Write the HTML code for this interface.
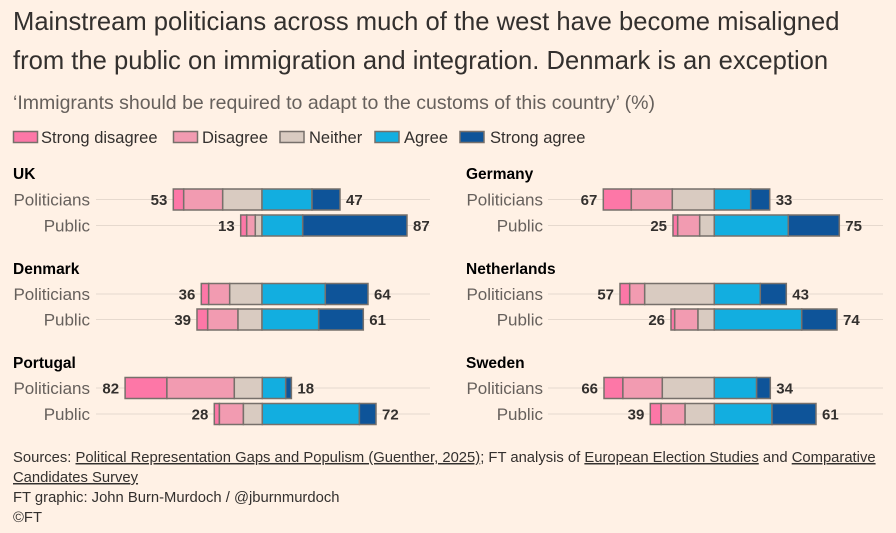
<!DOCTYPE html>
<html><head><meta charset="utf-8"><style>
body{margin:0;background:#fff1e5;}
svg{display:block;font-family:"Liberation Sans",sans-serif;}
.t{font-size:25.6px;fill:#33302e;}
.s{font-size:19.5px;fill:#66605c;}
.lg{font-size:16.5px;fill:#33302e;}
.c{font-size:15.5px;font-weight:bold;fill:#000;}
.r{font-size:17px;fill:#66605c;text-anchor:end;}
.n{font-size:15px;font-weight:bold;fill:#33302e;}
.e{text-anchor:end;}
.f{font-size:14.8px;fill:#33302e;}
.u{text-decoration:underline;}
rect{stroke:#77706b;stroke-width:1.5;}
.a{fill:#fd77a7}.b{fill:#f29bb1}.d{fill:#d9cbc1}.g{fill:#12aee0}.h{fill:#0e5499}
line{stroke:#e6d9ce;stroke-width:1;}
</style></head><body>
<svg width="896" height="533" viewBox="0 0 896 533">
<text class="t" x="13" y="30">Mainstream politicians across much of the west have become misaligned</text>
<text class="t" x="13" y="69">from the public on immigration and integration. Denmark is an exception</text>
<text class="s" x="13" y="109">‘Immigrants should be required to adapt to the customs of this country’ (%)</text>
<rect class="a" x="13.5" y="131.5" width="24" height="11"/><text class="lg" x="41" y="143">Strong disagree</text>
<rect class="b" x="173.5" y="131.5" width="24" height="11"/><text class="lg" x="202" y="143">Disagree</text>
<rect class="d" x="280" y="131.5" width="24" height="11"/><text class="lg" x="309" y="143">Neither</text>
<rect class="g" x="375" y="131.5" width="24" height="11"/><text class="lg" x="404" y="143">Agree</text>
<rect class="h" x="460" y="131.5" width="24" height="11"/><text class="lg" x="490" y="143">Strong agree</text>

<g>
<line x1="96" x2="430" y1="199.5" y2="199.5"/><line x1="96" x2="430" y1="225.5" y2="225.5"/>
<line x1="96" x2="430" y1="294" y2="294"/><line x1="96" x2="430" y1="319.5" y2="319.5"/>
<line x1="96" x2="430" y1="388" y2="388"/><line x1="96" x2="430" y1="414" y2="414"/>
<line x1="548" x2="883" y1="199.5" y2="199.5"/><line x1="548" x2="883" y1="225.5" y2="225.5"/>
<line x1="548" x2="883" y1="294" y2="294"/><line x1="548" x2="883" y1="319.5" y2="319.5"/>
<line x1="548" x2="883" y1="388" y2="388"/><line x1="548" x2="883" y1="414" y2="414"/>
</g>

<text class="c" x="13" y="179">UK</text>
<text class="c" x="466" y="179">Germany</text>
<text class="c" x="13" y="274">Denmark</text>
<text class="c" x="466" y="274">Netherlands</text>
<text class="c" x="13" y="368">Portugal</text>
<text class="c" x="466" y="368">Sweden</text>

<text class="r" x="90" y="205.5">Politicians</text><text class="r" x="90" y="231.5">Public</text>
<text class="r" x="90" y="300">Politicians</text><text class="r" x="90" y="325.5">Public</text>
<text class="r" x="90" y="394">Politicians</text><text class="r" x="90" y="420">Public</text>
<text class="r" x="543" y="205.5">Politicians</text><text class="r" x="543" y="231.5">Public</text>
<text class="r" x="543" y="300">Politicians</text><text class="r" x="543" y="325.5">Public</text>
<text class="r" x="543" y="394">Politicians</text><text class="r" x="543" y="420">Public</text>

<rect class="a" x="173.3" y="189" width="10.4" height="21"/><rect class="b" x="183.7" y="189" width="39" height="21"/><rect class="d" x="222.7" y="189" width="39.3" height="21"/><rect class="g" x="262" y="189" width="50" height="21"/><rect class="h" x="312" y="189" width="28" height="21"/>
<text class="n e" x="167.3" y="205">53</text><text class="n" x="346" y="205">47</text>
<rect class="a" x="240.7" y="215" width="6" height="21"/><rect class="b" x="246.7" y="215" width="8.6" height="21"/><rect class="d" x="255.3" y="215" width="6.7" height="21"/><rect class="g" x="262" y="215" width="40.7" height="21"/><rect class="h" x="302.7" y="215" width="104.3" height="21"/>
<text class="n e" x="234.7" y="231">13</text><text class="n" x="413" y="231">87</text>
<rect class="a" x="603.3" y="189" width="28" height="21"/><rect class="b" x="631.3" y="189" width="41" height="21"/><rect class="d" x="672.3" y="189" width="42" height="21"/><rect class="g" x="714.3" y="189" width="36.4" height="21"/><rect class="h" x="750.7" y="189" width="19" height="21"/>
<text class="n e" x="597.3" y="205">67</text><text class="n" x="775.7" y="205">33</text>
<rect class="a" x="673" y="215" width="4.7" height="21"/><rect class="b" x="677.7" y="215" width="22" height="21"/><rect class="d" x="699.7" y="215" width="14.6" height="21"/><rect class="g" x="714.3" y="215" width="74" height="21"/><rect class="h" x="788.3" y="215" width="51" height="21"/>
<text class="n e" x="667" y="231">25</text><text class="n" x="845.3" y="231">75</text>
<rect class="a" x="201.3" y="283.5" width="7.4" height="21"/><rect class="b" x="208.7" y="283.5" width="21" height="21"/><rect class="d" x="229.7" y="283.5" width="32.3" height="21"/><rect class="g" x="262" y="283.5" width="63.3" height="21"/><rect class="h" x="325.3" y="283.5" width="42.7" height="21"/>
<text class="n e" x="195.3" y="299.5">36</text><text class="n" x="374" y="299.5">64</text>
<rect class="a" x="197" y="309" width="10.7" height="21"/><rect class="b" x="207.7" y="309" width="30.3" height="21"/><rect class="d" x="238" y="309" width="24" height="21"/><rect class="g" x="262" y="309" width="56.7" height="21"/><rect class="h" x="318.7" y="309" width="44.6" height="21"/>
<text class="n e" x="191" y="325">39</text><text class="n" x="369.3" y="325">61</text>
<rect class="a" x="620" y="283.5" width="9.7" height="21"/><rect class="b" x="629.7" y="283.5" width="15" height="21"/><rect class="d" x="644.7" y="283.5" width="69.6" height="21"/><rect class="g" x="714.3" y="283.5" width="46" height="21"/><rect class="h" x="760.3" y="283.5" width="26" height="21"/>
<text class="n e" x="614" y="299.5">57</text><text class="n" x="792.3" y="299.5">43</text>
<rect class="a" x="671" y="309" width="3.7" height="21"/><rect class="b" x="674.7" y="309" width="23.3" height="21"/><rect class="d" x="698" y="309" width="16.3" height="21"/><rect class="g" x="714.3" y="309" width="87.4" height="21"/><rect class="h" x="801.7" y="309" width="35.3" height="21"/>
<text class="n e" x="665" y="325">26</text><text class="n" x="843" y="325">74</text>
<rect class="a" x="125.1" y="377.5" width="41.8" height="21"/><rect class="b" x="166.9" y="377.5" width="67.4" height="21"/><rect class="d" x="234.3" y="377.5" width="28" height="21"/><rect class="g" x="262.3" y="377.5" width="23.4" height="21"/><rect class="h" x="285.7" y="377.5" width="5.7" height="21"/>
<text class="n e" x="119.1" y="393.5">82</text><text class="n" x="297.4" y="393.5">18</text>
<rect class="a" x="214.3" y="403.5" width="5.1" height="21"/><rect class="b" x="219.4" y="403.5" width="24" height="21"/><rect class="d" x="243.4" y="403.5" width="18.9" height="21"/><rect class="g" x="262.3" y="403.5" width="97.1" height="21"/><rect class="h" x="359.4" y="403.5" width="16.6" height="21"/>
<text class="n e" x="208.3" y="419.5">28</text><text class="n" x="382" y="419.5">72</text>
<rect class="a" x="604" y="377.5" width="18.9" height="21"/><rect class="b" x="622.9" y="377.5" width="39.4" height="21"/><rect class="d" x="662.3" y="377.5" width="52" height="21"/><rect class="g" x="714.3" y="377.5" width="42.3" height="21"/><rect class="h" x="756.6" y="377.5" width="13.7" height="21"/>
<text class="n e" x="598" y="393.5">66</text><text class="n" x="776.3" y="393.5">34</text>
<rect class="a" x="650.3" y="403.5" width="10.8" height="21"/><rect class="b" x="661.1" y="403.5" width="24" height="21"/><rect class="d" x="685.1" y="403.5" width="29.2" height="21"/><rect class="g" x="714.3" y="403.5" width="57.7" height="21"/><rect class="h" x="772" y="403.5" width="44" height="21"/>
<text class="n e" x="644.3" y="419.5">39</text><text class="n" x="822" y="419.5">61</text>

<text class="f" x="13" y="462">Sources: <tspan class="u">Political Representation Gaps and Populism (Guenther, 2025)</tspan>; FT analysis of <tspan class="u">European Election Studies</tspan> and <tspan class="u">Comparative</tspan></text>
<text class="f" x="13" y="482"><tspan class="u">Candidates Survey</tspan></text>
<text class="f" x="13" y="502">FT graphic: John Burn-Murdoch / @jburnmurdoch</text>
<text class="f" x="13" y="522">©FT</text>
</svg>
</body></html>
